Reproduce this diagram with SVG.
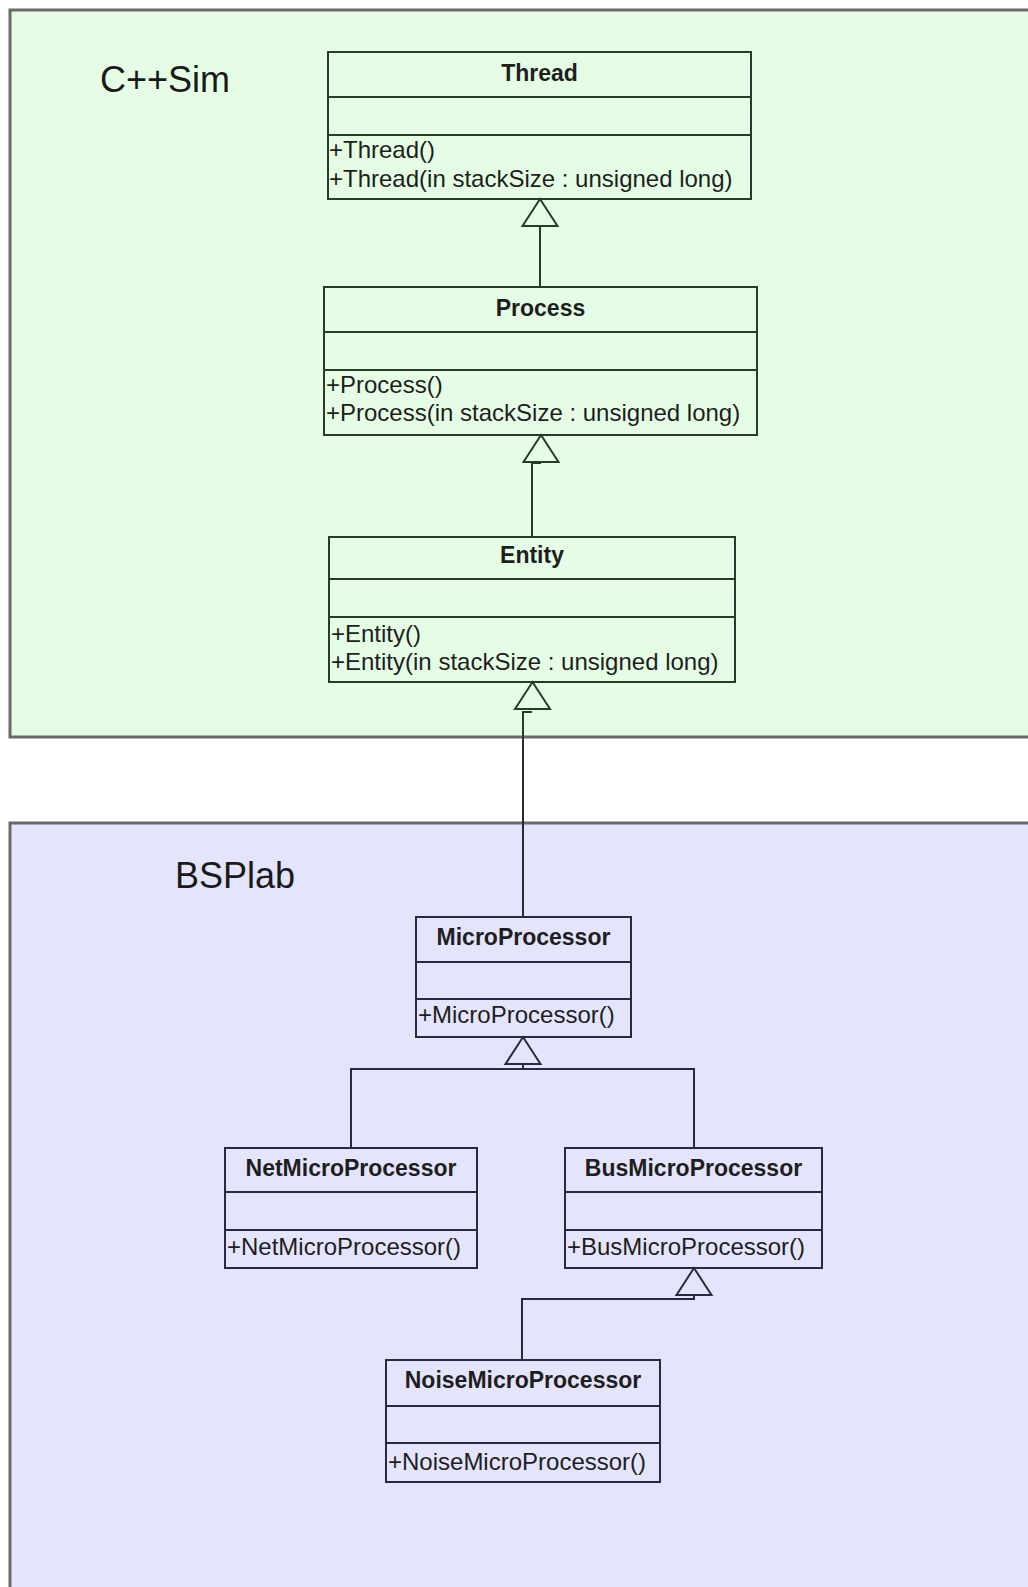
<svg xmlns="http://www.w3.org/2000/svg" xmlns:xlink="http://www.w3.org/1999/xlink" width="1028" height="1587" viewBox="0 0 1028 1587">
<style>
  .pkg { stroke: #6a6a6a; stroke-width: 3; }
  .pkgG { fill: #e4fde4; }
  .pkgB { fill: #e4e4fc; }
  .pkglabel { font-family: "Liberation Sans", Arial, sans-serif; font-size: 36px; fill: #1a1a1a; }
  .box { fill: none; stroke-width: 2; }
  .div { stroke-width: 2; }
  .g .box, .g .div { stroke: #2a3a2a; }
  .b .box, .b .div { stroke: #2a2a3c; }
  .title { font-family: "Liberation Sans", Arial, sans-serif; font-size: 23px; font-weight: bold; text-anchor: middle; fill: #1e1e1e; }
  .op { font-family: "Liberation Sans", Arial, sans-serif; font-size: 24px; fill: #1e1e1e; }
  .conn { fill: none; stroke-width: 2; }
  .cg { stroke: #2a3a2a; }
  .cb { stroke: #2a2a3c; }
  .triG { fill: #e4fde4; stroke: #2a3a2a; stroke-width: 2; }
  .triB { fill: #e4e4fc; stroke: #2a2a3c; stroke-width: 2; }
</style>
<defs>
  <path id="tri" d="M0 0 L17.5 27 L-17.5 27 Z"/>
</defs>
<rect width="1028" height="1587" fill="#ffffff"/>

<g id="pkg-cppsim">
  <rect class="pkg pkgG" x="10" y="10" width="1040" height="727"/>
  <text class="pkglabel" x="100" y="92">C++Sim</text>
</g>
<g id="pkg-bsplab">
  <rect class="pkg pkgB" x="10" y="823" width="1040" height="800"/>
  <text class="pkglabel" x="175" y="888">BSPlab</text>
</g>

<g id="connectors">
  <path class="conn cg" d="M540 287 V226"/>
  <use href="#tri" class="triG" x="540" y="199"/>
  <path class="conn cg" d="M532 537 V463 H541"/>
  <use href="#tri" class="triG" x="541" y="435"/>
  <path class="conn cg" d="M523 737 V712 H532"/>
  <path class="conn cb" d="M523 917 V737"/>
  <use href="#tri" class="triG" x="532.5" y="682"/>
  <path class="conn cb" d="M351 1148 V1069 H694 V1148 M523 1069 V1064"/>
  <use href="#tri" class="triB" x="523" y="1037"/>
  <path class="conn cb" d="M522 1360 V1299 H694 V1295"/>
  <use href="#tri" class="triB" x="694" y="1268"/>
</g>

<g id="Thread" class="g">
  <rect class="box" x="328" y="52" width="423" height="147"/>
  <line class="div" x1="328" y1="97" x2="751" y2="97"/>
  <line class="div" x1="328" y1="135" x2="751" y2="135"/>
  <text class="title" x="539.5" y="81">Thread</text>
  <text class="op" x="329" y="158">+Thread()</text>
  <text class="op" x="329" y="187">+Thread(in stackSize : unsigned long)</text>
</g>

<g id="Process" class="g">
  <rect class="box" x="324" y="287" width="433" height="148"/>
  <line class="div" x1="324" y1="332" x2="757" y2="332"/>
  <line class="div" x1="324" y1="370" x2="757" y2="370"/>
  <text class="title" x="540.5" y="316">Process</text>
  <text class="op" x="326" y="393">+Process()</text>
  <text class="op" x="326" y="421">+Process(in stackSize : unsigned long)</text>
</g>

<g id="Entity" class="g">
  <rect class="box" x="329" y="537" width="406" height="145"/>
  <line class="div" x1="329" y1="579" x2="735" y2="579"/>
  <line class="div" x1="329" y1="617" x2="735" y2="617"/>
  <text class="title" x="532" y="563">Entity</text>
  <text class="op" x="331" y="642">+Entity()</text>
  <text class="op" x="331" y="670">+Entity(in stackSize : unsigned long)</text>
</g>

<g id="MicroProcessor" class="b">
  <rect class="box" x="416" y="917" width="215" height="120"/>
  <line class="div" x1="416" y1="962" x2="631" y2="962"/>
  <line class="div" x1="416" y1="999" x2="631" y2="999"/>
  <text class="title" x="523.5" y="945">MicroProcessor</text>
  <text class="op" x="418" y="1023">+MicroProcessor()</text>
</g>

<g id="NetMicroProcessor" class="b">
  <rect class="box" x="225" y="1148" width="252" height="120"/>
  <line class="div" x1="225" y1="1192" x2="477" y2="1192"/>
  <line class="div" x1="225" y1="1230" x2="477" y2="1230"/>
  <text class="title" x="351" y="1176">NetMicroProcessor</text>
  <text class="op" x="227" y="1255">+NetMicroProcessor()</text>
</g>

<g id="BusMicroProcessor" class="b">
  <rect class="box" x="565" y="1148" width="257" height="120"/>
  <line class="div" x1="565" y1="1192" x2="822" y2="1192"/>
  <line class="div" x1="565" y1="1230" x2="822" y2="1230"/>
  <text class="title" x="693.5" y="1176">BusMicroProcessor</text>
  <text class="op" x="567" y="1255">+BusMicroProcessor()</text>
</g>

<g id="NoiseMicroProcessor" class="b">
  <rect class="box" x="386" y="1360" width="274" height="122"/>
  <line class="div" x1="386" y1="1406" x2="660" y2="1406"/>
  <line class="div" x1="386" y1="1443" x2="660" y2="1443"/>
  <text class="title" x="523" y="1388">NoiseMicroProcessor</text>
  <text class="op" x="388" y="1470">+NoiseMicroProcessor()</text>
</g>
</svg>
